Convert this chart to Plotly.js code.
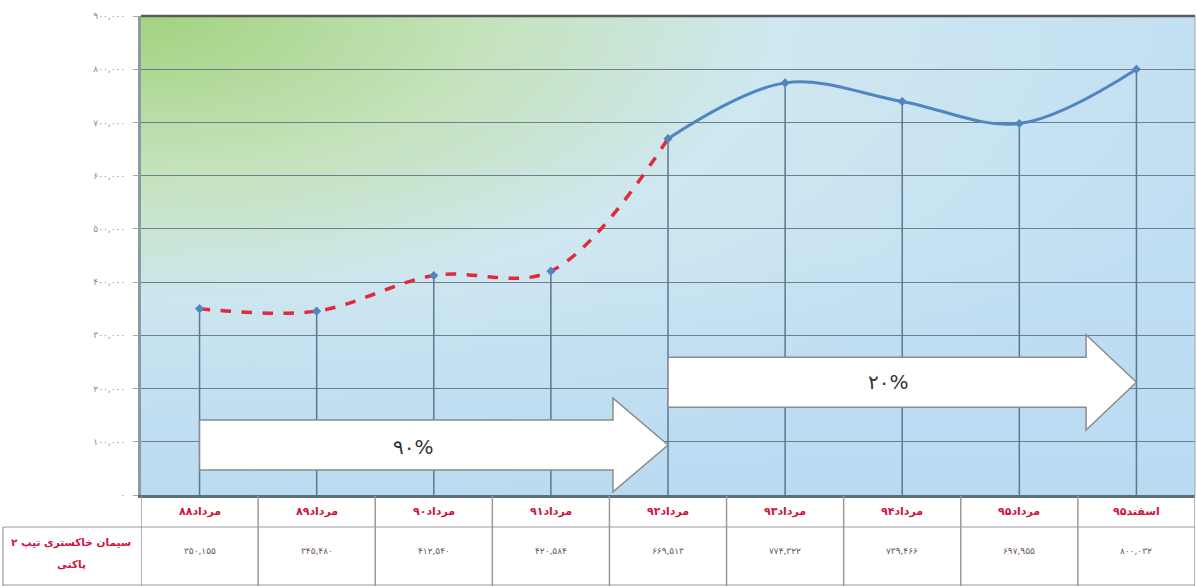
<!DOCTYPE html>
<html><head><meta charset="utf-8">
<script src="https://cdn.plot.ly/plotly-3.0.1.min.js"></script>
<style>html,body{margin:0;padding:0;background:#fff;}#chart{width:1196px;height:586px;}</style>
</head><body><div id="chart"></div>
<script>
var categories = ["مرداد۸۸","مرداد۸۹","مرداد۹۰","مرداد۹۱","مرداد۹۲","مرداد۹۳","مرداد۹۴","مرداد۹۵","اسفند۹۵"];
var prices = [350155, 345480, 412540, 420584, 669513, 774322, 739466, 697955, 800032];
var rowLabelLines = ["سیمان خاکستری تیپ ۲","پاکتی"];
var tickValues = [0,100000,200000,300000,400000,500000,600000,700000,800000,900000];
var tickLabels = ["۰","۱۰۰,۰۰۰","۲۰۰,۰۰۰","۳۰۰,۰۰۰","۴۰۰,۰۰۰","۵۰۰,۰۰۰","۶۰۰,۰۰۰","۷۰۰,۰۰۰","۸۰۰,۰۰۰","۹۰۰,۰۰۰"];
var growthLabels = ["۹۰%","۲۰%"];

function toFa(s){return String(s).replace(/[0-9]/g,function(d){return "۰۱۲۳۴۵۶۷۸۹"[+d];});}

var idx = categories.map(function(c,i){return i;});
var split = 4;

var dropX=[], dropY=[];
idx.forEach(function(i){dropX.push(i,i,null);dropY.push(0,prices[i],null);});

var traces = [
 {x:dropX,y:dropY,mode:'lines',line:{color:'#5b7890',width:1.5},hoverinfo:'skip',showlegend:false},
 {x:idx.slice(0,split+1),y:prices.slice(0,split+1),mode:'lines',line:{color:'#e02a3c',width:3.5,dash:'dash',shape:'spline',smoothing:1},showlegend:false},
 {x:idx.slice(split),y:prices.slice(split),mode:'lines',line:{color:'#4f86bf',width:3,shape:'spline',smoothing:1},showlegend:false},
 {x:idx,y:prices,mode:'markers',marker:{symbol:'diamond',size:7,color:'#4f86bf'},showlegend:false}
];

var svg = '<svg xmlns="http://www.w3.org/2000/svg" width="1054" height="479" viewBox="0 0 1054 479" preserveAspectRatio="none">'+
 '<defs><radialGradient id="g" cx="0" cy="0" r="1.1" gradientUnits="objectBoundingBox">'+
 '<stop offset="0" stop-color="#a3d27f"/><stop offset="0.3" stop-color="#c4e3bc"/>'+
 '<stop offset="0.55" stop-color="#cfe7f0"/><stop offset="1" stop-color="#c0def3"/></radialGradient>'+
 '<linearGradient id="b" x1="0" y1="0" x2="0" y2="1"><stop offset="0.5" stop-color="#b4d8f0" stop-opacity="0"/><stop offset="1" stop-color="#b4d8f0" stop-opacity="0.6"/></linearGradient></defs>'+
 '<rect width="1054" height="479" fill="url(#g)"/><rect width="1054" height="479" fill="url(#b)"/></svg>';

var plotH = 479, plotW = 1054;
function py(px){return -(px-495)/plotH;}
function pxp(px){return (px-141)/plotW;}

var shapes = [];
function arrowPath(x0,x1,xh,yb0,yb1,yh0,yh1,ytip){
  return 'M'+x0+','+yb0+' L'+xh+','+yb0+' L'+xh+','+yh0+' L'+x1+','+ytip+' L'+xh+','+yh1+' L'+xh+','+yb1+' L'+x0+','+yb1+' Z';
}
shapes.push({type:'path',xref:'x',yref:'y',path:arrowPath(0,4,3.53,141000,47000,182000,6000,94000),fillcolor:'#ffffff',line:{color:'#8c8c8c',width:1.5}});
shapes.push({type:'path',xref:'x',yref:'y',path:arrowPath(4,8,7.57,259000,165000,301000,122000,212000),fillcolor:'#ffffff',line:{color:'#8c8c8c',width:1.5}});
shapes.push({type:'line',xref:'paper',yref:'paper',x0:0,x1:1,y0:1,y1:1,line:{color:'#5a5a5a',width:2.5}});
shapes.push({type:'line',xref:'paper',yref:'paper',x0:1,x1:1,y0:0,y1:1,line:{color:'#9aa7b0',width:1}});
var tc = '#9a9a9a';
shapes.push({type:'line',xref:'paper',yref:'paper',x0:pxp(3),x1:1,y0:py(527),y1:py(527),line:{color:tc,width:1.2}});
shapes.push({type:'line',xref:'paper',yref:'paper',x0:pxp(3),x1:1,y0:py(585),y1:py(585),line:{color:tc,width:1.2}});
shapes.push({type:'line',xref:'paper',yref:'paper',x0:pxp(3),x1:pxp(3),y0:py(527),y1:py(586),line:{color:tc,width:1.2}});
for(var k=0;k<=categories.length;k++){
  shapes.push({type:'line',xref:'x',yref:'paper',x0:k-0.5,x1:k-0.5,y0:py(496),y1:py(586),line:{color:tc,width:1.5}});
}

var annotations = [];
categories.forEach(function(c,i){
  annotations.push({xref:'x',yref:'paper',x:i,y:py(511),xanchor:'center',yanchor:'middle',text:c,showarrow:false,font:{family:'DejaVu Sans',size:11,color:'#d0123e',weight:'bold'}});
  annotations.push({xref:'x',yref:'paper',x:i,y:py(551),xanchor:'center',yanchor:'middle',text:toFa(prices[i].toLocaleString('en-US')),showarrow:false,font:{family:'DejaVu Sans',size:9,color:'#6a5560'}});
});
rowLabelLines.forEach(function(t,j){
  annotations.push({xref:'paper',yref:'paper',x:pxp(71),y:py(542+j*22),xanchor:'center',yanchor:'middle',text:t,showarrow:false,font:{family:'DejaVu Sans',size:10.5,color:'#d0123e',weight:'bold'}});
});
annotations.push({xref:'x',yref:'y',x:1.83,y:90000,xanchor:'center',yanchor:'middle',text:growthLabels[0],showarrow:false,font:{family:'DejaVu Sans',size:20,color:'#333'}});
annotations.push({xref:'x',yref:'y',x:5.88,y:212000,xanchor:'center',yanchor:'middle',text:growthLabels[1],showarrow:false,font:{family:'DejaVu Sans',size:20,color:'#333'}});

var layout = {
  width:1196,height:586,
  margin:{l:141,r:1,t:16,b:91},
  paper_bgcolor:'#ffffff',plot_bgcolor:'rgba(0,0,0,0)',
  showlegend:false,
  xaxis:{range:[-0.5,8.5],showgrid:false,zeroline:false,showticklabels:false,ticks:'',showline:true,linecolor:'#5f6f7a',linewidth:3,fixedrange:true},
  yaxis:{range:[0,900000],tickvals:tickValues,ticktext:tickLabels,showgrid:true,gridcolor:'#6e7f8b',gridwidth:1.2,zeroline:false,
         showline:true,linecolor:'#8d9aa3',linewidth:3,ticks:'outside',ticklen:5,tickcolor:'#aaa',ticklabelstandoff:6,
         tickfont:{family:'DejaVu Sans',size:9,color:'#8a8a8a'},fixedrange:true},
  images:[{source:'data:image/svg+xml;charset=utf-8,'+encodeURIComponent(svg),xref:'paper',yref:'paper',x:0,y:1,sizex:1,sizey:1,sizing:'stretch',layer:'below',xanchor:'left',yanchor:'top'}],
  shapes:shapes,
  annotations:annotations
};
Plotly.newPlot('chart',traces,layout,{displayModeBar:false,staticPlot:true});
</script></body></html>
